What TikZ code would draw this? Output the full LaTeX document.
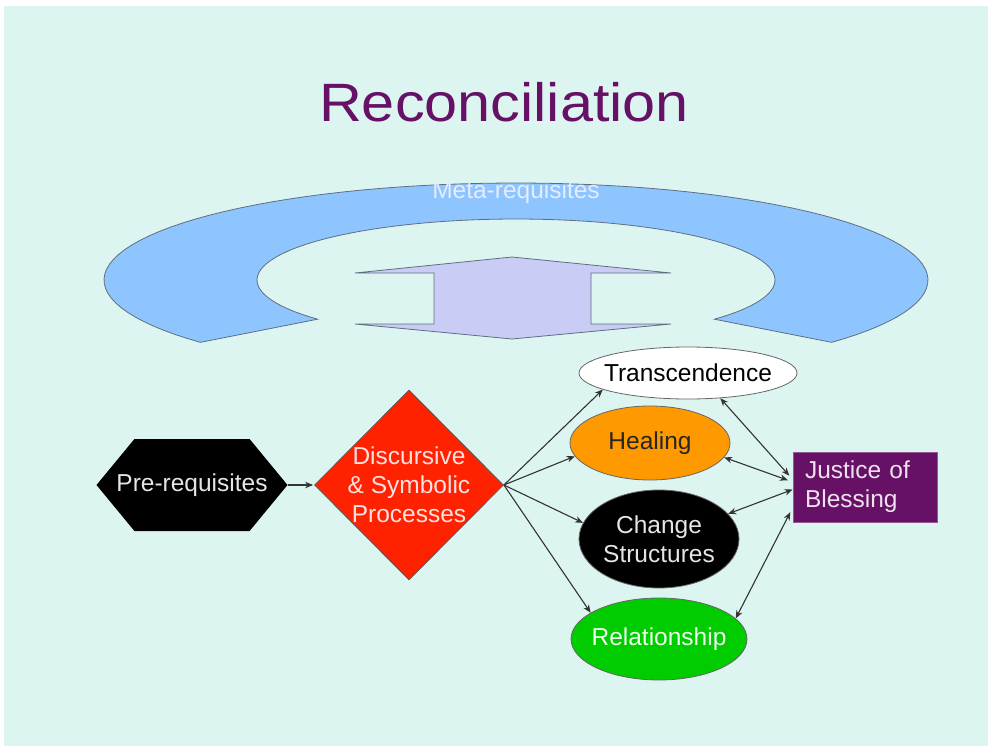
\documentclass[tikz,border=0pt]{standalone}
\usepackage{fontspec}
\setmainfont{Liberation Sans}
\usetikzlibrary{shapes.geometric,shapes.symbols,arrows.meta}

\definecolor{bgcyan}{HTML}{DDF5F1}
\definecolor{titlepurple}{HTML}{661166}
\definecolor{arcblue}{HTML}{8EC5FF}
\definecolor{arcline}{HTML}{5F6F80}
\definecolor{metatext}{HTML}{E4ECFF}
\definecolor{lavender}{HTML}{C9CDF5}
\definecolor{discred}{HTML}{FF2200}
\definecolor{healorange}{HTML}{FF9900}
\definecolor{relgreen}{HTML}{00CC00}

\tikzset{
  boxtext/.style={font=\fontsize{24.5}{29}\selectfont},
  oval/.style={ellipse, draw=gray!80!black, line width=0.8pt, inner sep=-8pt, align=center, boxtext},
  conn/.style={draw=black!80, line width=1.1pt, -{Stealth[length=8pt,width=6.5pt]}},
  biconn/.style={conn, {Stealth[length=8pt,width=6.5pt]}-{Stealth[length=8pt,width=6.5pt]}, shorten >=5pt},
}

\begin{document}
\begin{tikzpicture}[x=1pt,y=-1pt]

  % 背景
  \useasboundingbox (0,0) rectangle (988,746);
  \fill [white] (0,0) rectangle (988,746);
  \fill [bgcyan] (4,6) rectangle (988,746);

  % タイトル
  \node [text=titlepurple, font=\fontsize{54}{60}\selectfont] (title) at (504,102) {\scalebox{1.1}[1]{Reconciliation}};

  % Meta-requisites の弧
  \draw [arcline, fill=arcblue, line width=0.8pt]
    plot [domain=220:-40, samples=90] ({516+412*cos(\x)}, {280-97*sin(\x)})
    -- plot [domain=-40:220, samples=90] ({516+259*cos(\x)}, {280-61*sin(\x)}) -- cycle;
  \node [boxtext, text=metatext] (meta) at (516,192) {Meta-requisites};

  % 上下の矢印
  \draw [arcline, fill=lavender, line width=0.8pt]
    (355,273) -- (512,257) -- (671,273) -- (591,273) -- (591,324) -- (671,324)
    -- (512,339) -- (355,324) -- (434,324) -- (434,273) -- cycle;

  % 左側
  \node [signal, signal to=west and east, signal pointer angle=101, fill=black,
    minimum width=191pt, minimum height=92pt, inner xsep=-20pt, inner ysep=0pt,
    text=white!90!black, boxtext] (prereq) at (192,485) {Pre-requisites};
  \node [diamond, fill=discred, draw=gray!70!black, line width=0.8pt,
    minimum width=189pt, minimum height=190pt, inner sep=-10pt, align=center,
    text=white!88!red, boxtext] (disc) at (409,485) {Discursive\\\& Symbolic\\Processes};

  % 右側
  \node [oval, fill=white, minimum width=218pt, minimum height=52pt] (trans) at (688,373) {Transcendence};
  \node [oval, fill=healorange, text=black!85, minimum width=160pt, minimum height=74pt] (heal) at (650,443) {Healing};
  \node [oval, fill=black, text=white!90!black, minimum width=160pt, minimum height=98pt] (change) at (659,539) {Change\\Structures};
  \node [oval, fill=relgreen, text=white!92!green, minimum width=176pt, minimum height=82pt] (relat) at (659,639) {Relationship};
  \node [rectangle, fill=titlepurple, draw=titlepurple!70!white, line width=0.8pt,
    text width=120pt, inner xsep=12pt, inner ysep=0pt, minimum height=70pt,
    align=left, text=white!88!titlepurple, boxtext] (justice) at (865,487) {Justice of\\Blessing};

  % 矢印
  \draw [conn, shorten >=1pt] (prereq.east) -- (disc.west);
  \draw [conn] (disc.east) -- (trans.191);
  \draw [conn] (disc.east) -- (heal.190);
  \draw [conn] (disc.east) -- (change.168);
  \draw [conn] (disc.east) -- (relat.159);

  % 双方向の矢印
  \draw [biconn] (trans.322) -- (justice.174);
  \draw [biconn] (heal.349) -- (justice.176);
  \draw [biconn, shorten >=0pt] (change.20) -- (justice.182);
  \draw [biconn] (relat.15) -- (justice.196);

\end{tikzpicture}
\end{document}
